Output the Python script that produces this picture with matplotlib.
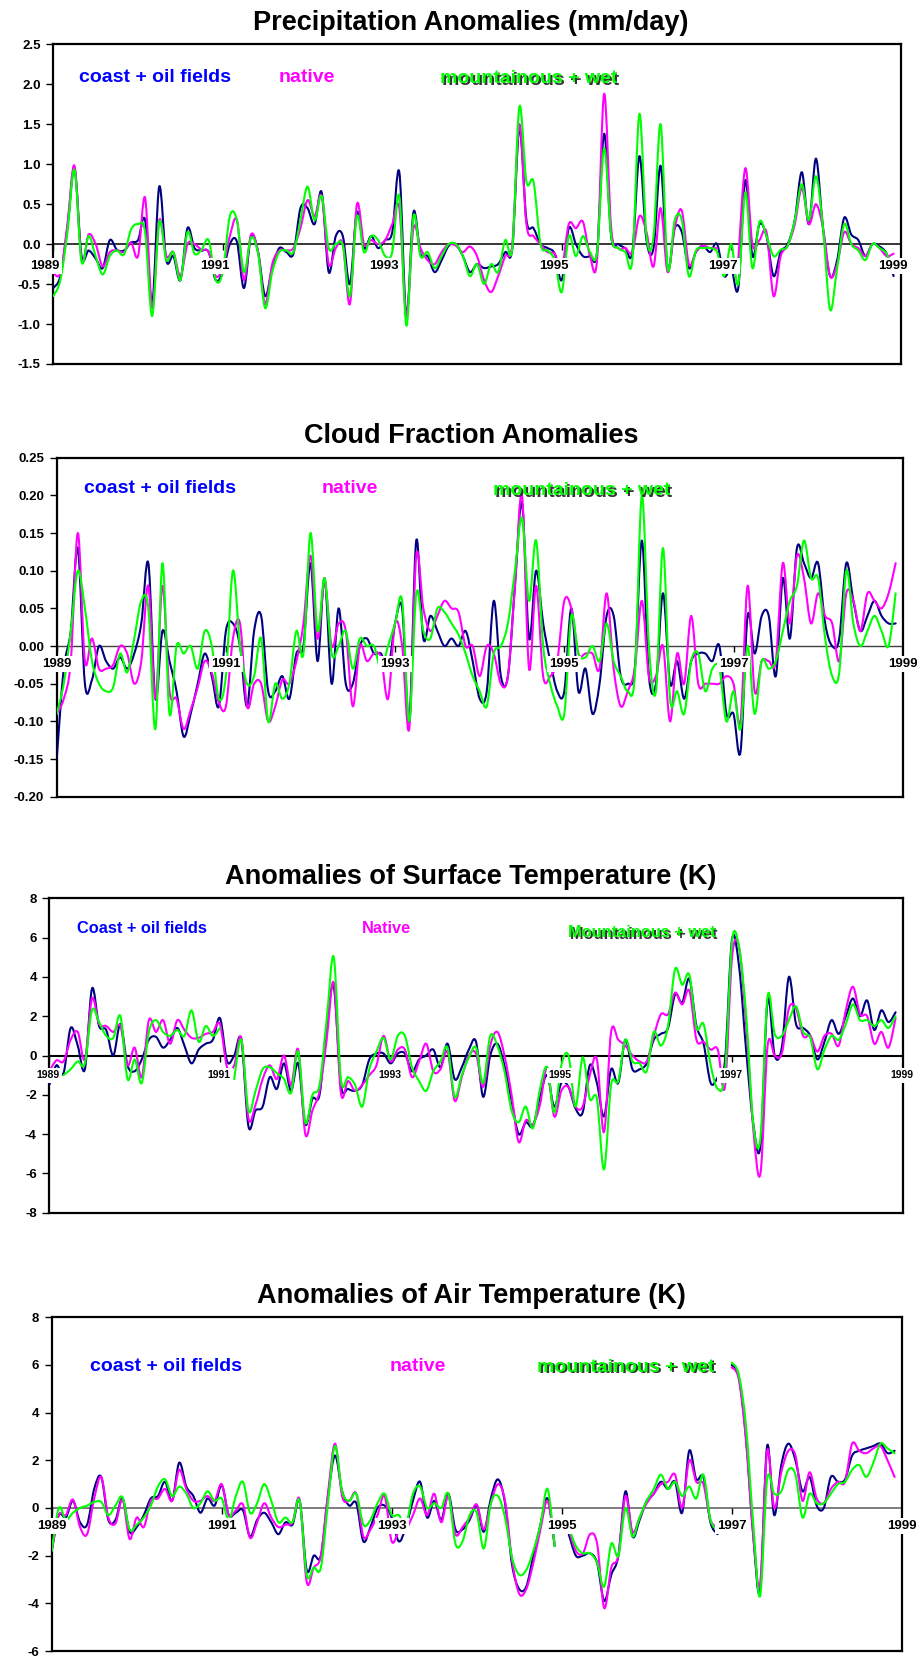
import numpy as np
import matplotlib
matplotlib.use('Agg')
import matplotlib.pyplot as plt
from matplotlib.transforms import offset_copy
from matplotlib.path import Path
from matplotlib.patches import PathPatch

nan = np.nan

# monthly anomalies, Jan 1989 .. Dec 1998
months = 1989 + np.arange(120) / 12.0
year_ticks = [1989, 1991, 1993, 1995, 1997, 1999]

# --- precipitation (mm/day) ---
precip_coast = [
    -0.55, -0.4, 0.2, 0.95, -0.15, -0.08, -0.18, -0.3, 0.05, -0.07,
    -0.08, 0.02, 0.05, 0.3, -0.75, 0.72, -0.2, -0.15, -0.45, 0.2,
    -0.05, -0.08, -0.1, -0.45, -0.35, 0.0, 0.03, -0.55, 0.1, -0.1,
    -0.65, -0.3, -0.05, -0.1, -0.12, 0.45, 0.45, 0.25, 0.65, -0.35,
    0.1, 0.1, -0.5, 0.4, -0.05, 0.1, -0.05, 0.05, 0.15, 0.9,
    -0.9, 0.4, -0.12, -0.15, -0.35, -0.2, -0.02, 0.0, -0.15, -0.35,
    -0.25, -0.3, -0.28, -0.25, -0.1, -0.05, 1.45, 0.3, 0.2, 0.0,
    -0.05, -0.12, -0.45, 0.2, 0.0, -0.15, -0.15, -0.1, 1.38, 0.1,
    0.0, -0.05, -0.1, 1.1, 0.05, -0.05, 0.98, -0.3, 0.2, 0.15,
    -0.3, -0.1, -0.02, -0.1, 0.0, -0.4, -0.3, -0.55, 0.8, -0.15,
    0.25, 0.1, -0.4, -0.1, 0.0, 0.3, 0.9, 0.25, 1.07, 0.2,
    -0.4, -0.2, 0.33, 0.12, 0.05, -0.15, 0.0, -0.03, -0.12, -0.4]
precip_native = [
    -0.36, -0.36, 0.25, 0.98, -0.2, 0.12, 0.0, -0.28, -0.1, -0.08,
    -0.1, 0.02, -0.15, 0.58, -0.8, 0.3, -0.15, -0.1, -0.4, 0.0,
    0.0, -0.07, -0.1, -0.4, -0.3, 0.1, 0.3, -0.45, 0.12, -0.1,
    -0.75, -0.25, -0.08, -0.08, -0.05, 0.2, 0.55, 0.35, 0.6, -0.25,
    -0.05, 0.0, -0.75, 0.5, 0.0, 0.05, 0.0, 0.05, 0.25, 0.45,
    -0.9, 0.2, -0.05, -0.2, -0.25, -0.1, 0.0, -0.02, -0.1, -0.03,
    -0.15, -0.45, -0.6, -0.4, -0.15, 0.0, 1.5, 0.25, 0.1, 0.0,
    -0.1, -0.12, -0.3, 0.25, 0.2, 0.28, -0.15, -0.2, 1.88, 0.2,
    -0.05, -0.05, -0.1, 0.35, 0.15, -0.28, 0.45, -0.35, 0.2, 0.42,
    -0.25, -0.1, -0.02, -0.05, -0.05, nan, nan, -0.2, 0.95, 0.0,
    0.05, 0.15, -0.65, -0.15, -0.02, 0.25, 0.7, 0.25, 0.5, 0.2,
    -0.4, -0.25, 0.15, 0.0, -0.05, -0.15, 0.0, -0.05, -0.15, -0.12]
precip_mount = [
    -0.65, -0.45, 0.15, 0.93, -0.22, 0.1, -0.15, -0.38, -0.15, -0.08,
    -0.13, 0.18, 0.25, 0.15, -0.9, 0.28, -0.2, -0.1, -0.45, 0.15,
    -0.12, -0.07, 0.05, -0.45, -0.35, 0.35, 0.3, -0.35, 0.08, -0.12,
    -0.8, -0.35, -0.1, -0.08, -0.1, 0.3, 0.72, 0.3, 0.6, -0.05,
    0.0, -0.02, -0.65, 0.35, -0.1, 0.1, 0.05, -0.15, -0.1, 0.6,
    -1.02, 0.35, -0.15, -0.1, -0.3, -0.15, 0.0, 0.0, -0.15, -0.4,
    -0.25, -0.5, -0.25, -0.35, 0.05, -0.05, 1.72, 0.78, 0.78, 0.0,
    -0.08, -0.2, -0.6, 0.1, -0.15, 0.1, -0.1, -0.1, 1.2, 0.1,
    -0.05, -0.1, -0.2, 1.63, 0.1, 0.1, 1.5, -0.3, 0.3, 0.3,
    -0.4, -0.08, -0.05, -0.05, -0.1, -0.4, 0.0, -0.5, 0.65, -0.3,
    0.28, 0.1, -0.15, -0.07, -0.02, 0.3, 0.75, 0.3, 0.85, 0.2,
    -0.82, -0.3, 0.25, 0.0, -0.08, -0.2, 0.0, -0.05, -0.12, -0.35]

# --- cloud fraction ---
cloud_coast = [
    -0.15, -0.03, 0.02, 0.13, -0.05, -0.045, 0.0, -0.02, -0.03, -0.015,
    -0.03, -0.01, 0.03, 0.11, -0.07, 0.02, -0.02, -0.06, -0.12, -0.09,
    -0.05, -0.01, -0.04, -0.08, 0.02, 0.03, 0.0, -0.08, 0.02, 0.04,
    -0.06, -0.06, -0.04, -0.07, -0.01, 0.0, 0.11, -0.02, 0.09, -0.05,
    0.05, -0.05, -0.05, 0.0, 0.01, -0.01, -0.01, -0.03, 0.03, 0.05,
    -0.1, 0.14, 0.01, 0.04, 0.02, 0.0, 0.01, 0.0, 0.02, -0.02,
    -0.07, -0.06, 0.06, -0.04, -0.04, 0.08, 0.19, 0.01, 0.1, 0.03,
    -0.02, -0.06, -0.06, 0.05, -0.06, -0.03, -0.09, -0.05, 0.04, 0.04,
    -0.04, -0.05, -0.03, 0.14, -0.04, -0.05, 0.07, -0.05, -0.02, -0.07,
    -0.02, -0.01, -0.01, -0.02, 0.0, -0.09, -0.09, -0.14, 0.04, -0.01,
    0.04, 0.04, -0.04, 0.09, 0.01, 0.13, 0.11, 0.09, 0.11, 0.03,
    0.0, 0.01, 0.11, 0.06, 0.02, 0.04, 0.06, 0.04, 0.03, 0.03]
cloud_native = [
    -0.09, -0.07, -0.02, 0.15, -0.02, 0.01, -0.03, -0.03, -0.025, 0.0,
    -0.01, -0.05, -0.02, 0.08, -0.07, 0.08, -0.06, -0.07, -0.11, -0.085,
    -0.055, -0.02, -0.035, -0.075, -0.08, 0.01, 0.03, -0.08, -0.05, -0.05,
    -0.1, -0.08, -0.045, -0.05, -0.02, 0.03, 0.12, 0.01, 0.085, 0.0,
    0.03, 0.02, -0.08, 0.0, -0.02, -0.01, -0.015, -0.07, 0.03, 0.0,
    -0.11, 0.12, 0.05, 0.02, 0.04, 0.06, 0.05, 0.045, 0.0, 0.0,
    -0.04, 0.0, -0.01, -0.05, -0.04, 0.08, 0.2, -0.03, 0.08, -0.04,
    -0.04, -0.02, 0.06, 0.05, -0.01, -0.01, -0.01, -0.03, 0.07, -0.03,
    -0.08, -0.06, -0.03, 0.06, -0.04, -0.04, 0.0, -0.1, -0.01, -0.05,
    0.04, -0.05, -0.05, -0.05, -0.05, -0.04, -0.05, -0.1, 0.08, -0.06,
    -0.02, -0.02, -0.02, 0.11, 0.03, 0.12, 0.09, 0.03, 0.07, 0.04,
    0.03, -0.02, 0.07, 0.06, 0.02, 0.07, 0.06, 0.05, 0.07, 0.11]
cloud_mount = [
    -0.09, -0.05, 0.02, 0.10, 0.05, -0.02, -0.05, -0.06, -0.055, -0.01,
    -0.035, 0.01, 0.06, 0.05, -0.11, 0.11, -0.09, 0.0, -0.01, 0.0,
    -0.03, 0.02, 0.0, -0.07, -0.04, 0.1, 0.0, -0.05, -0.04, 0.01,
    -0.1, -0.05, -0.07, -0.05, 0.02, -0.01, 0.15, 0.02, 0.09, -0.01,
    0.0, 0.02, -0.03, 0.01, 0.0, 0.0, -0.03, 0.0, 0.03, 0.06,
    -0.1, 0.07, 0.02, 0.01, 0.05, 0.045, 0.03, 0.015, -0.01, -0.04,
    -0.06, -0.08, -0.01, 0.0, 0.03, 0.1, 0.17, 0.06, 0.14, 0.0,
    -0.05, -0.08, -0.09, 0.04, -0.01, -0.015, 0.0, -0.02, 0.03, -0.02,
    -0.04, -0.06, -0.04, 0.2, 0.0, -0.06, 0.13, -0.07, -0.06, -0.09,
    -0.02, -0.01, -0.06, -0.03, -0.03, -0.1, -0.06, -0.11, 0.0, -0.09,
    -0.02, -0.03, -0.02, 0.02, 0.06, 0.08, 0.14, 0.09, 0.09, 0.01,
    -0.04, -0.035, 0.10, 0.03, 0.0, 0.02, 0.04, 0.02, 0.0, 0.07]

# --- surface temperature (K) ---
tsurf_coast = [
    -1.5, -0.5, -0.9, 1.4, 0.5, -0.7, 3.4, 1.5, 1.3, 0.0,
    1.6, -0.5, -0.8, -0.2, 0.8, 0.95, 0.4, 0.8, 1.4, 0.5,
    -0.4, 0.3, 0.6, 0.8, 1.9, -0.3, 0.0, 0.8, -3.6, -2.8,
    -2.6, -1.1, -1.7, -0.4, -1.8, -0.4, -3.5, -2.2, -2.0, 1.5,
    3.5, -1.5, -1.7, -1.8, -1.5, -0.2, 0.1, 0.1, -0.4, 0.1,
    0.1, -0.8, -0.2, 0.0, 0.3, -0.6, 0.6, -1.2, -0.6, 0.3,
    0.7, -2.1, 0.0, 0.6, -0.5, -2.3, -4.0, -3.4, -3.6, -2.1,
    -1.0, -2.6, -1.4, -1.6, -2.7, -2.9, -0.5, -1.4, -3.1, -0.7,
    -1.4, 0.8, -0.7, -0.7, -0.4, 0.8, 1.1, 1.4, 3.1, 2.7,
    3.9, 1.5, 0.6, -1.4, -1.1, -0.3, 5.9, 4.5, 0.2, -3.5,
    -4.6, 2.8, 0.0, 0.4, 4.0, 1.6, 1.4, 1.0, -0.2, 0.7,
    1.8, 1.1, 2.0, 2.9, 2.0, 2.8, 1.3, 2.3, 1.7, 2.2]
tsurf_native = [
    -0.8, -0.25, -0.3, 0.8, 1.2, -0.2, 2.9, 1.6, 1.5, 1.2,
    1.5, -0.5, 0.4, -1.1, 1.8, 1.2, 1.8, 0.6, 1.8, 1.3,
    0.9, 0.9, 1.1, 1.2, 1.6, -0.6, -0.5, 0.9, -3.2, -2.5,
    -1.2, -0.5, -1.2, 0.0, -1.5, 0.3, -4.0, -2.8, -1.8, 0.8,
    3.7, -1.9, -1.3, -1.8, -1.5, -1.0, -0.5, 1.0, -0.3, 0.3,
    0.3, -1.1, -0.3, 0.6, -0.8, -0.7, 0.2, -2.3, -1.1, 0.0,
    0.1, -1.6, 0.5, 1.2, 0.0, -2.0, -4.4, -3.3, -3.5, -2.5,
    -0.6, -3.1, -1.8, -1.6, -2.6, -2.6, -1.0, -0.2, -3.9, 1.2,
    0.8, 0.5, 0.0, -0.3, -0.3, 1.0, 2.1, 2.1, 3.2, 2.6,
    3.3, 0.8, 0.7, 0.3, 0.3, -1.6, 5.0, 5.5, 1.5, -3.8,
    -6.0, 0.5, 0.0, 0.1, 2.4, 2.4, 1.0, 1.0, 0.2, 1.0,
    1.1, 0.5, 2.3, 3.5, 2.1, 2.0, 0.6, 1.2, 0.4, 1.9]
tsurf_mount = [
    nan, nan, -1.0, -0.7, -0.3, -0.4, 2.3, 1.7, 1.0, 0.9,
    2.0, -1.2, -0.2, -1.4, 1.2, 1.8, 1.2, 1.0, 1.3, 1.0,
    2.3, 0.7, 1.5, 1.0, 1.4, nan, -1.2, 0.8, -2.8, -1.8,
    -0.7, -0.6, -0.9, -1.2, -1.9, 0.2, -3.4, -2.0, -1.5, 1.8,
    5.0, -1.2, -1.1, -1.5, -2.6, -0.7, 0.2, 0.9, -0.2, 1.0,
    1.0, -0.6, -1.3, -1.8, -0.8, -0.3, 0.4, -2.1, -1.0, -0.1,
    0.4, -1.4, 1.0, 0.5, -0.8, -2.8, -3.4, -2.6, -3.7, -1.7,
    -0.6, -2.9, -0.5, 0.0, -2.6, -0.1, -2.2, -2.2, -5.8, -1.5,
    -1.3, 0.8, -0.3, -0.4, -0.8, 1.2, 0.5, 1.5, 4.4, 3.6,
    4.1, 1.4, 1.6, -0.5, -1.7, -0.9, 5.8, 5.5, 2.0, -3.5,
    -4.2, 3.0, 1.1, 1.0, 1.8, 2.5, 1.2, 0.9, -0.7, 0.3,
    1.0, 0.8, 1.6, 2.6, 1.8, 1.8, 1.5, 1.8, 1.4, 2.0]

# --- air temperature (K) ---
tair_coast = [
    -1.8, -0.3, -0.4, 0.3, -0.6, -0.7, 0.8, 1.3, -0.5, -0.5,
    0.4, -1.0, -0.8, -0.3, 0.4, 0.5, 1.1, 0.3, 1.9, 0.9,
    0.5, -0.2, 0.4, 0.1, 0.95, -0.3, -0.2, -0.1, -1.2, -0.5,
    -0.2, -0.6, -1.1, -0.6, -0.7, 0.3, -2.6, -2.0, -2.0, 0.5,
    2.2, 0.7, 0.1, 0.2, -1.4, -0.8, 0.0, 0.1, -0.4, -1.4,
    -0.8, 0.3, 1.1, -0.4, 0.3, -0.5, 0.6, -0.9, -0.9, -0.5,
    0.1, -1.0, 0.4, 1.2, 0.2, -2.4, -3.4, -3.3, -2.0, -0.7,
    0.4, -1.6, nan, -1.1, -2.0, -2.0, -1.9, -2.3, -3.9, -2.8,
    -2.0, 0.7, -1.2, -0.5, 0.3, 0.6, 1.1, 0.8, 1.1, -0.2,
    2.4, 1.2, 1.3, -0.6, -1.1, nan, 6.0, 5.5, 3.0, -1.0,
    -3.5, 2.6, -0.3, 1.8, 2.7, 2.0, 0.7, 1.3, 0.1, 0.0,
    1.3, 1.1, 1.2, 2.2, 2.4, 2.5, 2.6, 2.7, 2.3, 2.4]
tair_native = [
    -1.8, -0.3, -0.3, 0.35, -0.8, -1.1, 0.4, 1.3, -0.4, -0.65,
    0.35, -1.3, -0.4, -0.8, 0.3, 0.4, 0.8, 0.3, 1.6, 0.8,
    0.3, 0.3, 0.5, 0.3, 1.0, -0.3, -0.1, 0.15, -1.25, -0.6,
    0.2, -0.4, -0.8, -0.7, -0.6, 0.35, -3.1, -2.5, -2.0, 0.6,
    2.7, 0.5, 0.3, 0.6, -1.2, -0.9, -0.3, 0.5, -1.4, -1.0,
    -0.9, -0.3, 0.4, -0.3, 0.6, -0.6, 0.5, -1.1, -0.8, -0.4,
    0.15, -0.9, 0.2, 1.0, 0.3, -2.2, -3.6, -3.4, -2.3, -0.9,
    0.3, -1.5, nan, -0.9, -1.8, -1.9, -1.1, -1.5, -4.2, -2.5,
    -2.0, 0.5, -1.0, -0.4, 0.2, 0.6, 1.0, 1.1, 1.4, 0.0,
    2.0, 1.1, 1.0, -0.5, -0.8, nan, 5.9, 5.4, 2.9, -1.0,
    -3.2, 2.4, 0.0, 1.5, 2.4, 2.2, 0.3, 1.5, 0.4, 0.2,
    0.8, 1.1, 1.1, 2.7, 2.4, 2.3, 2.5, 2.6, 2.0, 1.3]
tair_mount = [
    -1.8, 0.0, -0.5, -0.2, 0.0, 0.1, 0.25, 0.25, -0.3, 0.1,
    0.45, -0.9, -0.7, -0.4, 0.1, 0.9, 1.2, 0.5, 0.9, 0.6,
    0.0, 0.2, 0.7, 0.3, 0.4, -0.5, 0.5, 1.1, -0.2, 0.2,
    1.0, 0.3, -0.6, -0.4, -0.6, 0.3, -2.8, -2.5, -2.5, 0.2,
    2.6, 0.7, 0.3, 0.6, -0.7, -0.5, 0.2, 0.6, -0.3, -0.3,
    -0.7, 0.6, 0.9, 0.0, 0.2, 0.0, 0.6, -1.5, -1.4, -0.3,
    -0.2, -1.7, 0.2, 0.5, -0.4, -2.1, -2.8, -2.6, -1.8, -0.7,
    0.8, -1.6, nan, -0.8, -1.6, -1.9, -1.9, -2.3, -3.3, -1.5,
    -2.0, 0.0, -1.2, -0.4, 0.3, 0.8, 1.4, 0.8, 1.1, 0.5,
    0.9, 0.4, 1.4, -0.5, -0.9, nan, 6.1, 5.6, 3.5, -0.5,
    -3.7, 1.2, 0.6, 0.7, 1.6, 1.4, -0.4, 0.6, 0.2, 0.2,
    0.6, 1.0, 1.1, 1.6, 1.8, 1.3, 1.9, 2.7, 2.5, 2.3]

COAST = '#000080'
NATIVE = '#ff00ff'
MOUNT = '#00ff00'

plt.rcParams['font.family'] = ['Liberation Sans', 'DejaVu Sans']
plt.rcParams['font.weight'] = 'bold'

W, H = 923, 1661
fig = plt.figure(figsize=(W / 100, H / 100), dpi=100)
fig.patch.set_facecolor('white')


def px_rect(left, top, right, bottom):
    # pixel box -> figure fraction rect
    return [left / W, 1 - bottom / H, (right - left) / W, (bottom - top) / H]


def smooth_path(x, y):
    """Smoothed line through the points (Catmull-Rom style bezier), broken at NaNs."""
    y = np.asarray(y, dtype=float)
    idx = np.flatnonzero(~np.isnan(y))
    runs = np.split(idx, np.flatnonzero(np.diff(idx) > 1) + 1)
    verts, codes = [], []
    for r in runs:
        if len(r) < 2:
            continue
        px, py = x[r], y[r]
        n = len(r)
        verts.append((px[0], py[0]))
        codes.append(Path.MOVETO)
        for k in range(n - 1):
            xa, ya = (px[k - 1], py[k - 1]) if k > 0 else (px[k], py[k])
            xb, yb = (px[k + 2], py[k + 2]) if k + 2 < n else (px[k + 1], py[k + 1])
            verts.append((px[k] + (px[k + 1] - xa) / 6, py[k] + (py[k + 1] - ya) / 6))
            verts.append((px[k + 1] - (xb - px[k]) / 6, py[k + 1] - (yb - py[k]) / 6))
            verts.append((px[k + 1], py[k + 1]))
            codes += [Path.CURVE4] * 3
    return Path(verts, codes)


def draw_panel(p):
    ax = fig.add_axes(px_rect(*p['box']))
    for vals, col in ((p['coast'], COAST), (p['native'], NATIVE), (p['mount'], MOUNT)):
        ax.add_patch(PathPatch(smooth_path(months, vals), fill=False, edgecolor=col,
                               lw=1.5, joinstyle='round', capstyle='round', zorder=3))

    ax.set_xlim(1989, 1999)
    ax.set_ylim(p['yticks'][0], p['yticks'][-1])
    ax.set_xticks([])
    ax.set_yticks(p['yticks'])
    ax.set_yticklabels([p['yfmt'].format(v) for v in p['yticks']],
                       fontsize=9.5, fontweight='bold')
    ax.tick_params(axis='y', direction='out', length=5, width=1.0, pad=4)
    for s in ax.spines.values():
        s.set_linewidth(1.6)
        s.set_color('black')

    # zero line with year ticks and labels sitting under it
    ax.axhline(0, color=p['zero_color'], lw=p['zero_lw'], zorder=2)
    ax.plot(year_ticks, np.zeros(len(year_ticks)), ls='none', marker=3,
            ms=4, mew=1.0, color='black', zorder=2)
    tr = offset_copy(ax.transData, fig=fig, x=p['year_dx'], y=p['year_dy'], units='dots')
    for yr in year_ticks:
        ax.text(yr, 0, str(yr), transform=tr, ha='center', va='center',
                fontsize=p['year_fs'], fontweight='bold', zorder=5, clip_on=False,
                bbox=dict(facecolor='white', edgecolor='none', pad=1.5))

    # series names
    lx, ly = p['lab_pos']
    fs = p['lab_fs']
    names = p['names']
    ax.text(lx[0], ly[0], names[0], transform=ax.transAxes, color='#0000ff',
            fontsize=fs, fontweight='bold', va='baseline', zorder=6)
    ax.text(lx[1], ly[0], names[1], transform=ax.transAxes, color=NATIVE,
            fontsize=fs, fontweight='bold', va='baseline', zorder=6)
    # green name with a dark drop shadow
    sh = offset_copy(ax.transAxes, fig=fig, x=1.8, y=-1.8, units='dots')
    ax.text(lx[2], ly[1], names[2], transform=sh, color='#333333',
            fontsize=fs, fontweight='bold', va='baseline', zorder=6)
    ax.text(lx[2], ly[1], names[2], transform=ax.transAxes, color=MOUNT,
            fontsize=fs, fontweight='bold', va='baseline', zorder=7)

    fig.text(471 / W, 1 - p['title_base'] / H, p['title'], ha='center',
             va='baseline', fontsize=19.5, fontweight='bold')
    return ax


panels = [
    dict(box=(53.3, 44.3, 900.7, 364.0), title='Precipitation Anomalies (mm/day)',
         title_base=29.5, coast=precip_coast, native=precip_native, mount=precip_mount,
         yticks=[-1.5, -1.0, -0.5, 0.0, 0.5, 1.0, 1.5, 2.0, 2.5], yfmt='{:.1f}',
         zero_color='black', zero_lw=1.1, year_fs=9.5, year_dx=-8, year_dy=-22,
         names=['coast + oil fields', 'native', 'mountainous + wet'],
         lab_pos=((0.0303, 0.266, 0.456), (0.883, 0.878)), lab_fs=14),
    dict(box=(56.7, 457.7, 902.7, 796.7), title='Cloud Fraction Anomalies',
         title_base=442.7, coast=cloud_coast, native=cloud_native, mount=cloud_mount,
         yticks=[-0.20, -0.15, -0.10, -0.05, 0.0, 0.05, 0.10, 0.15, 0.20, 0.25],
         yfmt='{:.2f}', zero_color='#404040', zero_lw=1.0, year_fs=9.5,
         year_dx=0, year_dy=-18,
         names=['coast + oil fields', 'native', 'mountainous + wet'],
         lab_pos=((0.032, 0.3136, 0.516), (0.895, 0.890)), lab_fs=14),
    dict(box=(49.3, 898.3, 902.7, 1212.7), title='Anomalies of Surface Temperature (K)',
         title_base=884.3, coast=tsurf_coast, native=tsurf_native, mount=tsurf_mount,
         yticks=[-8, -6, -4, -2, 0, 2, 4, 6, 8], yfmt='{:d}',
         zero_color='black', zero_lw=1.5, year_fs=7.5, year_dx=-1, year_dy=-20,
         names=['Coast + oil fields', 'Native', 'Mountainous + wet'],
         lab_pos=((0.032, 0.3665, 0.6078), (0.8887, 0.876)), lab_fs=11.8),
    dict(box=(51.7, 1317.3, 901.7, 1651.0), title='Anomalies of Air Temperature (K)',
         title_base=1302.7, coast=tair_coast, native=tair_native, mount=tair_mount,
         yticks=[-6, -4, -2, 0, 2, 4, 6, 8], yfmt='{:d}',
         zero_color='#666666', zero_lw=1.2, year_fs=9.5, year_dx=0, year_dy=-18,
         names=['coast + oil fields', 'native', 'mountainous + wet'],
         lab_pos=((0.045, 0.397, 0.571), (0.839, 0.837)), lab_fs=14),
]

for p in panels:
    draw_panel(p)

fig.savefig('out.png', dpi=100, facecolor='white')
